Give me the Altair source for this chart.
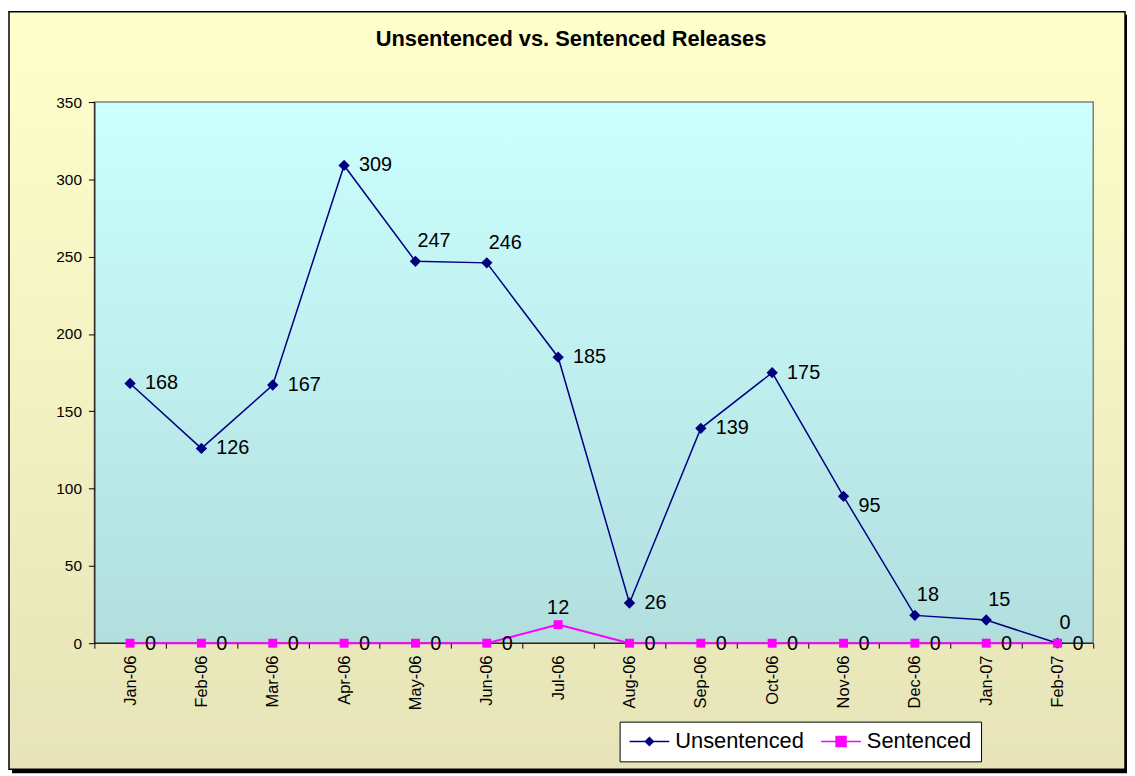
import altair as alt
import pandas as pd

# ---- data ----
months = ["Jan-06", "Feb-06", "Mar-06", "Apr-06", "May-06", "Jun-06", "Jul-06",
          "Aug-06", "Sep-06", "Oct-06", "Nov-06", "Dec-06", "Jan-07", "Feb-07"]
unsentenced = [168, 126, 167, 309, 247, 246, 185, 26, 139, 175, 95, 18, 15, 0]
sentenced = [0, 0, 0, 0, 0, 0, 12, 0, 0, 0, 0, 0, 0, 0]
series_names = ["Unsentenced", "Sentenced"]
series_colors = ["#000080", "#FF00FF"]
y_ticks = [0, 50, 100, 150, 200, 250, 300, 350]
chart_title = "Unsentenced vs. Sentenced Releases"

# which data labels sit above their point (as in the reference)
u_above = ["May-06", "Jun-06", "Dec-06", "Jan-07", "Feb-07"]
u_below = ["Nov-06"]
s_above = ["Jul-06"]

FONT = "Liberation Sans"
W, H = 1006, 545

df = pd.DataFrame({
    "Month": months * 2,
    "Series": [series_names[0]] * len(months) + [series_names[1]] * len(months),
    "Releases": unsentenced + sentenced,
})
one = pd.DataFrame({"k": [0]})

x_enc = alt.X("Month:N", sort=months, title=None,
              scale=alt.Scale(type="band", paddingInner=0, paddingOuter=0),
              axis=alt.Axis(labelAngle=-90, labelFontSize=16.5, labelFont=FONT,
                            labelColor="black", tickBand="extent", tickSize=5,
                            tickColor="black", domain=False, labelPadding=7,
                            grid=False, zindex=1))
y_enc = alt.Y("Releases:Q", title=None,
              scale=alt.Scale(domain=[0, 350]),
              axis=alt.Axis(values=y_ticks, labelFontSize=15.5, labelFont=FONT,
                            labelColor="black", tickSize=6, tickColor="black",
                            labelPadding=7, domainColor="black", gridColor="#3a4545",
                            gridWidth=1, zindex=1))
cscale = alt.Scale(domain=series_names, range=series_colors)

# ---- background decorations ----
shadow = alt.Chart(one).mark_rect(color="black").encode(
    x=alt.value(-83), x2=alt.value(W + 34), y=alt.value(-88), y2=alt.value(H + 131))
frame = alt.Chart(one).mark_rect(
    color=alt.Gradient(gradient="linear", x1=0, x2=0, y1=0, y2=1,
                       stops=[alt.GradientStop(color="#FFFFCC", offset=0),
                              alt.GradientStop(color="#E6E4B8", offset=1)]),
    stroke="black", strokeWidth=1.5).encode(
    x=alt.value(-86), x2=alt.value(W + 32), y=alt.value(-91), y2=alt.value(H + 127))
plotbg = alt.Chart(one).mark_rect(
    color=alt.Gradient(gradient="linear", x1=0, x2=0, y1=0, y2=1,
                       stops=[alt.GradientStop(color="#CCFFFF", offset=0),
                              alt.GradientStop(color="#B2DEDE", offset=1)]),
    stroke="#808080", strokeWidth=1.5).encode(
    x=alt.value(0), x2=alt.value(W), y=alt.value(0), y2=alt.value(H))
baseline = alt.Chart(one).mark_rule(color="black", strokeWidth=1).encode(
    y=alt.datum(0, scale=alt.Scale(domain=[0, 350])))


def series_layers(name, width, size, shape):
    base = alt.Chart(df).transform_filter(alt.datum.Series == name)
    line = base.mark_line(strokeWidth=width).encode(
        x=x_enc, y=y_enc, color=alt.Color("Series:N", scale=cscale, legend=None))
    pts = base.mark_point(filled=True, size=size, opacity=1, shape=shape).encode(
        x=x_enc, y=y_enc, color=alt.Color("Series:N", scale=cscale, legend=None))
    return [line, pts]


def labels(name, sel, dx, dy, align):
    return alt.Chart(df).transform_filter(alt.datum.Series == name).transform_filter(
        alt.FieldOneOfPredicate(field="Month", oneOf=sel)).mark_text(
        dx=dx, dy=dy, align=align, baseline="middle", fontSize=20, font=FONT,
        color="black").encode(x=x_enc, y=y_enc, text="Releases:Q")


u_right = [m for m in months if m not in u_above + u_below]
s_right = [m for m in months if m not in s_above]

# ---- legend (line + marker symbols) ----
leg = alt.Legend(title=None, orient="none", legendX=529, legendY=624,
                 direction="horizontal", labelFontSize=22, labelFont=FONT,
                 labelColor="black", symbolSize=400, symbolStrokeWidth=1.5,
                 symbolOpacity=1, strokeColor="black", fillColor="white",
                 padding=9, labelOffset=25, columnPadding=14, labelLimit=0)
legend_layer = alt.Chart(df).mark_point(filled=True, opacity=0, size=400).encode(
    x=x_enc, y=y_enc,
    fill=alt.Fill("Series:N", scale=alt.Scale(domain=series_names, range=series_colors), legend=leg),
    stroke=alt.Stroke("Series:N", scale=alt.Scale(domain=series_names, range=series_colors), legend=leg),
    shape=alt.Shape("Series:N", scale=alt.Scale(
        domain=series_names,
        range=["M-1,0H3M1,-0.4L1.4,0L1,0.4L0.6,0Z",
               "M-1,0H3M0.5,-0.5H1.5V0.5H0.5Z"]), legend=leg),
)

layers = [shadow, frame, plotbg, baseline]
layers += series_layers("Unsentenced", 1.5, 130, "diamond")
layers += series_layers("Sentenced", 2, 81, "square")
layers += [
    labels("Unsentenced", u_right, 15, 0, "left"),
    labels("Unsentenced", u_above, 2, -20, "left"),
    labels("Unsentenced", u_below, 15, 10, "left"),
    labels("Sentenced", s_right, 15, 1, "left"),
    labels("Sentenced", s_above, 0, -17, "center"),
    legend_layer,
]

chart = alt.layer(*layers).resolve_scale(
    shape="independent", fill="independent", stroke="independent"
).properties(
    width=W, height=H, padding=0,
    title=alt.TitleParams(chart_title, fontSize=22, font=FONT, fontWeight="bold",
                          color="black", anchor="middle", dx=-23, offset=-40),
).configure_view(strokeWidth=0).configure(font=FONT)

chart.save("out.html", embed_options={"renderer": "svg", "actions": False})
